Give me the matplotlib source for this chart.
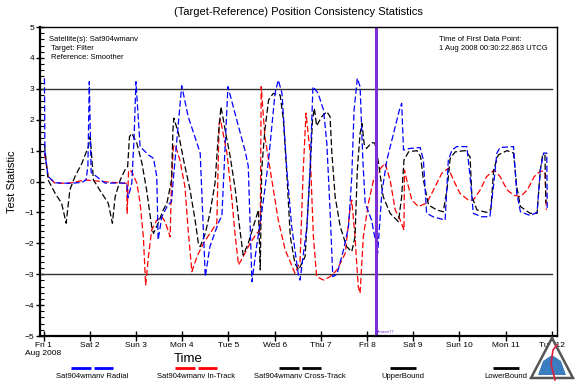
import matplotlib
matplotlib.use('Agg')
import matplotlib.pyplot as plt
from matplotlib.lines import Line2D
from matplotlib.patches import Polygon

plt.rcParams['font.family'] = ['Liberation Sans', 'DejaVu Sans']

# time in days since Fri 1 Aug 2008 00:00 UTCG
radial_t = [0.02, 0.03, 0.10, 0.25, 0.57, 0.83, 0.92, 0.96, 0.99, 1.03, 1.19, 1.33, 1.80, 1.83,
            1.91, 1.96, 2.00, 2.09, 2.27, 2.38, 2.45, 2.48, 2.56, 2.69, 2.77, 2.81, 2.99, 3.13,
            3.32, 3.39, 3.50, 3.60, 3.78, 3.86, 3.99, 4.18, 4.36, 4.43, 4.51, 4.61, 4.75, 4.87,
            5.01, 5.08, 5.16, 5.26, 5.37, 5.52, 5.55, 5.70, 5.77, 5.83, 5.94, 6.06, 6.13, 6.20,
            6.26, 6.35, 6.49, 6.60, 6.67, 6.72, 6.79, 6.85, 6.91, 6.96, 7.10, 7.23, 7.32, 7.43,
            7.61, 7.70, 7.75, 7.79, 7.93, 8.15, 8.22, 8.29, 8.43, 8.69, 8.76, 8.84, 8.94, 9.16,
            9.23, 9.30, 9.48, 9.66, 9.74, 9.81, 9.88, 10.17, 10.24, 10.32, 10.53, 10.68, 10.75,
            10.82, 10.89, 10.90]
radial_v = [3.34, 0.92, 0.16, -0.04, -0.06, -0.03, 0.05, 0.5, 3.23, 0.3, 0.11, -0.05, -0.05, -0.53,
            -0.05, 1.45, 3.23, 1.13, 0.86, 0.75, 0.16, -1.89, -1.14, -0.76, -0.65, 0.1, 3.1, 2.1,
            1.24, 0.92, -3.08, -2.11, -1.35, -1.1, 3.07, 2.0, 1.0, 0.5, -3.24, -2.11, -0.7, 0.7,
            2.86, 3.28, 2.86, 0.48, -1.46, -3.08, -3.19, -1.46, 0.48, 3.07, 2.86, 2.31, 1.24, -0.92,
            -3.08, -3.0, -2.22, -1.46, 0.16, 2.31, 3.34, 3.07, 0.7, -0.7, -1.25, -2.32, -0.38, 0.7,
            1.77, 2.31, 2.53, 1.02, 1.07, 1.1, 0.7, -1.03, -1.14, -1.25, 0.7, 1.02, 1.13, 1.13,
            0.16, -1.03, -1.14, -1.14, -0.1, 0.92, 1.1, 1.13, -0.38, -0.98, -1.1, -1.0, 0.37,
            0.92, 0.92, -0.9]

intrack_t = [0.02, 0.10, 0.25, 0.57, 0.90, 1.26, 1.76, 1.80, 1.81, 1.84, 1.91, 2.02, 2.09, 2.16,
             2.21, 2.27, 2.34, 2.45, 2.56, 2.63, 2.74, 2.77, 2.81, 2.85, 2.95, 3.06, 3.13, 3.21,
             3.32, 3.46, 3.60, 3.75, 3.80, 3.83, 3.97, 4.07, 4.15, 4.22, 4.32, 4.47, 4.61, 4.69,
             4.71, 4.79, 4.94, 5.08, 5.23, 5.34, 5.44, 5.55, 5.62, 5.68, 5.77, 5.84, 5.91, 6.06,
             6.20, 6.35, 6.53, 6.63, 6.67, 6.74, 6.81, 6.85, 6.92, 7.03, 7.14, 7.28, 7.39, 7.50,
             7.61, 7.72, 7.80, 7.81, 7.86, 7.97, 8.11, 8.29, 8.44, 8.62, 8.76, 8.87, 9.01, 9.19,
             9.30, 9.45, 9.59, 9.75, 9.88, 10.03, 10.17, 10.32, 10.47, 10.62, 10.75, 10.85, 10.88]
intrack_v = [0.91, 0.16, -0.06, -0.05, 0.05, 0.0, -0.06, -0.06, -1.03, 0.37, 0.32, -0.06, -0.7, -1.79,
             -3.35, -2.43, -1.57, -1.25, -1.14, -1.3, -1.79, 0.05, 1.13, 1.18, 0.7, -0.17, -1.57, -2.92,
             -2.43, -2.0, -1.68, -1.35, 1.88, 2.0, 0.91, -0.49, -1.79, -2.7, -2.43, -2.0, -1.68, -1.57,
             3.07, 1.45, 0.05, -1.25, -2.22, -2.6, -2.97, -2.6, 0.37, 2.21, 0.91, -1.79, -3.08, -3.19,
             -3.08, -2.86, -2.32, -0.92, -0.6, -1.79, -3.4, -3.62, -1.79, -0.7, 0.05, 0.4, 0.59, 0.05,
             -0.92, -1.25, -1.57, 0.37, 0.05, -0.6, -0.81, -0.7, -0.27, 0.27, 0.43, 0.05, -0.38, -0.6,
             -0.6, -0.27, 0.16, 0.37, 0.16, -0.27, -0.44, -0.49, -0.27, 0.16, 0.34, 0.32, -0.92]

cross_t = [0.02, 0.10, 0.25, 0.39, 0.49, 0.57, 0.68, 0.83, 0.97, 1.01, 1.08, 1.26, 1.40, 1.49,
           1.55, 1.66, 1.76, 1.82, 1.86, 1.91, 2.02, 2.13, 2.23, 2.34, 2.38, 2.48, 2.59, 2.67,
           2.77, 2.80, 2.82, 2.92, 3.03, 3.17, 3.28, 3.35, 3.39, 3.50, 3.60, 3.71, 3.78, 3.84,
           3.93, 4.04, 4.15, 4.25, 4.32, 4.43, 4.54, 4.65, 4.69, 4.72, 4.79, 4.87, 4.97, 5.12,
           5.19, 5.26, 5.34, 5.44, 5.52, 5.66, 5.77, 5.82, 5.86, 5.91, 6.02, 6.13, 6.20, 6.24,
           6.31, 6.42, 6.56, 6.67, 6.74, 6.79, 6.85, 6.89, 6.94, 6.99, 7.10, 7.17, 7.25, 7.35,
           7.50, 7.68, 7.75, 7.80, 7.90, 8.08, 8.16, 8.22, 8.33, 8.51, 8.65, 8.73, 8.80, 8.91,
           9.12, 9.23, 9.27, 9.38, 9.59, 9.68, 9.74, 9.84, 10.03, 10.17, 10.24, 10.32, 10.53,
           10.68, 10.75, 10.80, 10.85, 10.87]
cross_v = [1.2, 0.05, -0.38, -0.7, -1.35, -0.27, 0.16, 0.59, 1.13, 1.45, 0.05, -0.38, -0.7, -1.35,
           -0.49, 0.05, 0.37, 0.48, 1.45, 1.56, 1.24, 0.59, -0.27, -1.46, -1.68, -1.35, -0.92, -0.7,
           0.05, 1.67, 2.05, 1.56, 0.7, -0.27, -1.25, -2.0, -2.11, -1.68, -1.03, -0.06, 1.45, 2.42,
           1.67, 0.8, -0.27, -1.57, -2.38, -2.0, -1.46, -0.92, -2.86, 0.37, 1.67, 2.64, 2.85, 2.8,
           2.0, 0.37, -1.79, -2.65, -2.86, -2.43, 0.37, 2.0, 2.37, 1.8, 2.1, 2.26, 2.1, 0.91,
           -0.49, -1.46, -2.11, -2.27, -1.79, 0.37, 1.56, 1.88, 1.2, 1.07, 1.26, 1.24, 0.59, -0.49,
           -1.03, -1.3, -0.49, 0.7, 0.96, 1.0, 0.8, 0.05, -0.76, -0.92, -0.98, -0.27, 0.75, 0.96,
           1.0, 0.8, -0.49, -0.92, -1.0, -0.9, 0.37, 0.86, 1.0, 0.92, -0.17, -0.81, -1.03,
           -1.03, 0.37, 0.86, 0.86, -0.7]

bound_t = [-0.08, 11.0]
upper_v = [3, 3]
lower_v = [-3, -3]

event_t = 7.20
event_label = 'fmaan77'

day_labels = ['Fri 1\nAug 2008', 'Sat 2', 'Sun 3', 'Mon 4', 'Tue 5', 'Wed 6', 'Thu 7',
              'Fri 8', 'Sat 9', 'Sun 10', 'Mon 11', 'Tue 12']

series_names = ['Sat904wmanv Radial', 'Sat904wmanv In-Track', 'Sat904wmanv Cross-Track',
                'UpperBound', 'LowerBound']

BLUE, RED, BLACK = '#0000ff', '#ff0000', '#000000'
DASH = (0, (5, 2.2))

fig = plt.figure(figsize=(5.75, 3.82), dpi=100, facecolor='white')
ax = fig.add_axes([0.0696, 0.1204, 0.899, 0.8089])

ax.plot(bound_t, upper_v, color='#333333', lw=1.0)
ax.plot(bound_t, lower_v, color='#333333', lw=1.0)
ax.plot(intrack_t, intrack_v, color=RED, lw=0.9, ls=DASH)
ax.plot(cross_t, cross_v, color=BLACK, lw=0.9, ls=DASH)
ax.plot(radial_t, radial_v, color=BLUE, lw=0.9, ls=DASH)

ax.axvline(event_t, color='#7b2fd6', lw=2.2)
ax.text(event_t + 0.04, -4.93, event_label, color='#7b2fd6', fontsize=3.2, va='bottom')

ax.set_xlim(-0.076, 11.11)
ax.set_ylim(-5, 5)
ax.set_xticks(range(12))
ax.set_xticklabels(day_labels, fontsize=6)
ax.set_yticks(range(-5, 6))
ax.set_yticks([i / 5 for i in range(-25, 26)], minor=True)
ax.tick_params(axis='y', labelsize=6, direction='inout', length=6, width=1, pad=1)
ax.tick_params(axis='y', which='minor', direction='in', length=3, width=0.8)
ax.tick_params(axis='x', labelsize=6, direction='inout', length=7, width=1, pad=1)
for s in ['left', 'bottom']:
    ax.spines[s].set_linewidth(1.6)
for s in ['top', 'right']:
    ax.spines[s].set_linewidth(1.0)

ax.set_ylabel('Test Statistic', fontsize=8, labelpad=6)
ax.set_xlabel('Time', fontsize=9.5)
ax.xaxis.set_label_coords(0.286, -0.055)
ax.set_title('(Target-Reference) Position Consistency Statistics', fontsize=8, pad=9)

info = dict(fontsize=5.5, va='top', transform=ax.transAxes)
ax.text(0.017, 0.972, 'Satellite(s): Sat904wmanv', **info)
ax.text(0.021, 0.943, 'Target: Filter', **info)
ax.text(0.021, 0.914, 'Reference: Smoother', **info)
ax.text(0.772, 0.972, 'Time of First Data Point:', **info)
ax.text(0.772, 0.943, '1 Aug 2008 00:30:22.863 UTCG', **info)

# legend row under the axes: line sample above each label
W, H = 575.0, 382.0
legend_x = [92, 196, 300, 403, 506]
legend_col = [BLUE, RED, BLACK, BLACK, BLACK]
legend_dashed = [True, True, True, False, False]
ly = 1 - 367.5 / H
for cx, name, col, dashed in zip(legend_x, series_names, legend_col, legend_dashed):
    if dashed:
        segs = [(cx - 21, cx - 1.5), (cx + 1.5, cx + 21)]
    else:
        segs = [(cx - 13, cx + 13)]
    for a, b in segs:
        fig.add_artist(Line2D([a / W, b / W], [ly, ly], color=col, lw=2, solid_capstyle='butt'))
    fig.text(cx / W, 1 - 376 / H, name, fontsize=5.5, ha='center', va='center')

# logo in the lower right corner
tri = Polygon([[531 / W, 1 - 378 / H], [573 / W, 1 - 378 / H], [552 / W, 1 - 338 / H]],
              closed=True, transform=fig.transFigure, facecolor='white', edgecolor='#555555',
              lw=1.8, zorder=5)
fig.add_artist(tri)
hill = Polygon([[538 / W, 1 - 375 / H], [566 / W, 1 - 375 / H], [561 / W, 1 - 361 / H],
                [552 / W, 1 - 355 / H], [543 / W, 1 - 361 / H]],
               closed=True, transform=fig.transFigure, facecolor='#3a7cc0', edgecolor='none',
               zorder=6)
fig.add_artist(hill)
fig.add_artist(Line2D([555 / W, 551 / W, 553 / W, 557 / W],
                      [1 - 380 / H, 1 - 364 / H, 1 - 350 / H, 1 - 345 / H],
                      color='#e0203a', lw=1.2, zorder=7))

fig.savefig('out.png', dpi=100, facecolor='white')
